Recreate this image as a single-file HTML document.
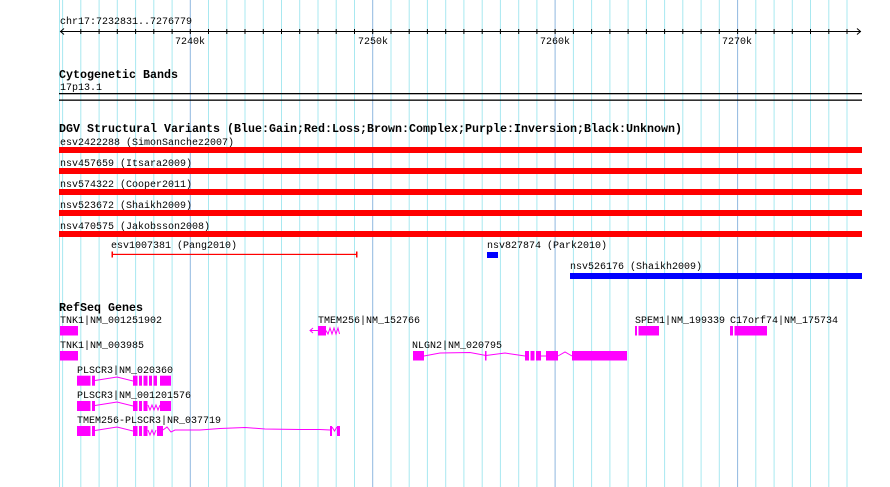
<!DOCTYPE html>
<html><head><meta charset="utf-8"><style>
html,body{margin:0;padding:0;background:#fff}
svg{display:block}
text{font-family:"Liberation Mono",monospace;font-size:10px;fill:#000}
.b{font-weight:bold;font-size:11.5px}
</style></head><body>
<svg width="890" height="487" viewBox="0 0 890 487" xmlns="http://www.w3.org/2000/svg">
<g stroke="#a8e8f0">
<line x1="59.5" y1="0" x2="59.5" y2="487"/>
<line x1="62.6" y1="0" x2="62.6" y2="487"/><line x1="80.8" y1="0" x2="80.8" y2="487"/><line x1="99.1" y1="0" x2="99.1" y2="487"/><line x1="117.3" y1="0" x2="117.3" y2="487"/><line x1="135.6" y1="0" x2="135.6" y2="487"/><line x1="153.8" y1="0" x2="153.8" y2="487"/><line x1="172.1" y1="0" x2="172.1" y2="487"/>
<line x1="208.5" y1="0" x2="208.5" y2="487"/><line x1="226.8" y1="0" x2="226.8" y2="487"/><line x1="245" y1="0" x2="245" y2="487"/><line x1="263.3" y1="0" x2="263.3" y2="487"/><line x1="281.5" y1="0" x2="281.5" y2="487"/><line x1="299.7" y1="0" x2="299.7" y2="487"/><line x1="318" y1="0" x2="318" y2="487"/><line x1="336.2" y1="0" x2="336.2" y2="487"/><line x1="354.5" y1="0" x2="354.5" y2="487"/>
<line x1="391" y1="0" x2="391" y2="487"/><line x1="409.2" y1="0" x2="409.2" y2="487"/><line x1="427.4" y1="0" x2="427.4" y2="487"/><line x1="445.7" y1="0" x2="445.7" y2="487"/><line x1="463.9" y1="0" x2="463.9" y2="487"/><line x1="482.2" y1="0" x2="482.2" y2="487"/><line x1="500.4" y1="0" x2="500.4" y2="487"/><line x1="518.7" y1="0" x2="518.7" y2="487"/><line x1="536.9" y1="0" x2="536.9" y2="487"/>
<line x1="573.4" y1="0" x2="573.4" y2="487"/><line x1="591.6" y1="0" x2="591.6" y2="487"/><line x1="609.9" y1="0" x2="609.9" y2="487"/><line x1="628.1" y1="0" x2="628.1" y2="487"/><line x1="646.4" y1="0" x2="646.4" y2="487"/><line x1="664.6" y1="0" x2="664.6" y2="487"/><line x1="682.8" y1="0" x2="682.8" y2="487"/><line x1="701.1" y1="0" x2="701.1" y2="487"/><line x1="719.3" y1="0" x2="719.3" y2="487"/>
<line x1="755.8" y1="0" x2="755.8" y2="487"/><line x1="774.1" y1="0" x2="774.1" y2="487"/><line x1="792.3" y1="0" x2="792.3" y2="487"/><line x1="810.5" y1="0" x2="810.5" y2="487"/><line x1="828.8" y1="0" x2="828.8" y2="487"/><line x1="847" y1="0" x2="847" y2="487"/>
</g>
<g stroke="#90b8e0">
<line x1="190.3" y1="0" x2="190.3" y2="487"/><line x1="372.7" y1="0" x2="372.7" y2="487"/><line x1="555.1" y1="0" x2="555.1" y2="487"/><line x1="737.6" y1="0" x2="737.6" y2="487"/>
</g>
<text x="60" y="24">chr17:7232831..7276779</text>
<g stroke="#000" stroke-width="1">
<line x1="60" y1="31.5" x2="861" y2="31.5"/>
<polyline points="64,28.5 60.5,31.5 64,34.5" fill="none"/>
<polyline points="857,28.5 860.5,31.5 857,34.5" fill="none"/>
<path d="M80.8 29v5M99.1 29v5M117.3 29v5M135.6 29v5M153.8 29v5M172.1 29v5M190.3 29v5M208.5 29v5M226.8 29v5M245 29v5M263.3 29v5M281.5 29v5M299.7 29v5M318 29v5M336.2 29v5M354.5 29v5M372.7 29v5M391 29v5M409.2 29v5M427.4 29v5M445.7 29v5M463.9 29v5M482.2 29v5M500.4 29v5M518.7 29v5M536.9 29v5M555.1 29v5M573.4 29v5M591.6 29v5M609.9 29v5M628.1 29v5M646.4 29v5M664.6 29v5M682.8 29v5M701.1 29v5M719.3 29v5M737.6 29v5M755.8 29v5M774.1 29v5M792.3 29v5M810.5 29v5M828.8 29v5M847 29v5"/>
</g>
<text x="175" y="44">7240k</text><text x="358" y="44">7250k</text><text x="540" y="44">7260k</text><text x="722" y="44">7270k</text>
<text class="b" x="59" y="78" textLength="119" lengthAdjust="spacingAndGlyphs">Cytogenetic Bands</text>
<text x="60" y="90">17p13.1</text>
<rect x="59" y="93" width="803" height="1.3" fill="#000"/>
<rect x="59" y="99.5" width="803" height="1.3" fill="#000"/>
<text class="b" x="59" y="132" textLength="623" lengthAdjust="spacingAndGlyphs">DGV Structural Variants (Blue:Gain;Red:Loss;Brown:Complex;Purple:Inversion;Black:Unknown)</text>
<text x="60" y="145">esv2422288 (SimonSanchez2007)</text>
<rect x="59" y="147" width="803" height="6" fill="#f00"/>
<text x="60" y="166">nsv457659 (Itsara2009)</text>
<rect x="59" y="168" width="803" height="6" fill="#f00"/>
<text x="60" y="187">nsv574322 (Cooper2011)</text>
<rect x="59" y="189" width="803" height="6" fill="#f00"/>
<text x="60" y="208">nsv523672 (Shaikh2009)</text>
<rect x="59" y="210" width="803" height="6" fill="#f00"/>
<text x="60" y="229">nsv470575 (Jakobsson2008)</text>
<rect x="59" y="231" width="803" height="6" fill="#f00"/>
<text x="111" y="248">esv1007381 (Pang2010)</text>
<rect x="111.5" y="253.8" width="246" height="1.2" fill="#f00"/>
<rect x="111.5" y="251.5" width="1.5" height="6" fill="#f00"/>
<rect x="356" y="251.5" width="1.5" height="6" fill="#f00"/>
<text x="487" y="248">nsv827874 (Park2010)</text>
<rect x="487" y="252" width="11" height="6" fill="#00f"/>
<text x="570" y="269">nsv526176 (Shaikh2009)</text>
<rect x="570" y="273" width="292" height="6" fill="#00f"/>
<text class="b" x="59" y="311" textLength="84" lengthAdjust="spacingAndGlyphs">RefSeq Genes</text>
<text x="60" y="323">TNK1|NM_001251902</text>
<text x="318" y="323">TMEM256|NM_152766</text>
<text x="635" y="323">SPEM1|NM_199339</text>
<text x="730" y="323">C17orf74|NM_175734</text>
<text x="60" y="348">TNK1|NM_003985</text>
<text x="412" y="348">NLGN2|NM_020795</text>
<text x="77" y="373">PLSCR3|NM_020360</text>
<text x="77" y="398">PLSCR3|NM_001201576</text>
<text x="77" y="423">TMEM256-PLSCR3|NR_037719</text>
<g fill="#f0f">
<rect x="60" y="326" width="18" height="9.5"/>
<rect x="318" y="326" width="8" height="9.5"/>
<rect x="635" y="326" width="2" height="9.5"/><rect x="638.5" y="326" width="20.5" height="9.5"/>
<rect x="730" y="326" width="3" height="9.5"/><rect x="734.5" y="326" width="32.5" height="9.5"/>
<rect x="60" y="351" width="18" height="9.5"/>
<rect x="413" y="351" width="11" height="9.5"/>
<rect x="485" y="351" width="1.5" height="9.5"/>
<rect x="525" y="351" width="4" height="9.5"/><rect x="530.5" y="351" width="4" height="9.5"/><rect x="536" y="351" width="5" height="9.5"/>
<rect x="546" y="351" width="12" height="9.5"/>
<rect x="572" y="351" width="55" height="9.5"/>
</g>
<g fill="none" stroke="#f0f" stroke-width="1">
<polyline points="326,330.5 328,334 330,328 332,334 334,328 336,334 338,328 339.5,334"/>
<path d="M310,330.5h8M313,328l-3,2.5l3,2.5"/>
<polyline points="424,356 440,353 470,352.5 486,355.5 505,353 525,356"/>
<polyline points="541,356 546,356"/>
<polyline points="558,356 565,352 572,356"/>
<polyline points="95,380.5 117,377 133,381"/>
<polyline points="95,405.5 117,402 133,406"/>
<polyline points="95,430.5 117,427 133,431"/>
<polyline points="163,430 167,427 171,432 175,430 200,430 220,428.5 245,427.5 265,429 300,429.5 320,429.5 330,430"/>
<polyline points="148,405 150,410 152,405 154,410 156,405 158,410 160,405"/>
<polyline points="148,430 150,435 152,430 154,435 156,430"/>
</g>
<g fill="#f0f">
<rect x="77" y="375.7" width="13.5" height="10"/><rect x="92" y="375.7" width="3" height="10"/>
<rect x="133" y="375.7" width="4.5" height="10"/><rect x="139" y="375.7" width="3" height="10"/><rect x="143.5" y="375.7" width="4" height="10"/><rect x="149" y="375.7" width="3" height="10"/><rect x="153.5" y="375.7" width="3.5" height="10"/><rect x="160" y="375.7" width="11" height="10"/>
<rect x="77" y="401" width="13.5" height="10"/><rect x="92" y="401" width="3" height="10"/>
<rect x="133" y="401" width="4.5" height="10"/><rect x="139" y="401" width="3" height="10"/><rect x="143.5" y="401" width="4" height="10"/><rect x="160" y="401" width="11" height="10"/>
<rect x="77" y="426" width="13.5" height="10"/><rect x="92" y="426" width="3" height="10"/>
<rect x="133" y="426" width="4.5" height="10"/><rect x="139" y="426" width="3" height="10"/><rect x="143.5" y="426" width="4" height="10"/><rect x="157" y="426" width="6" height="10"/>
<rect x="330" y="426" width="2" height="10"/><rect x="337" y="426" width="3" height="10"/>
</g>
<polyline points="332,427 334.5,431 337,427" fill="none" stroke="#f0f"/>
</svg>
</body></html>
